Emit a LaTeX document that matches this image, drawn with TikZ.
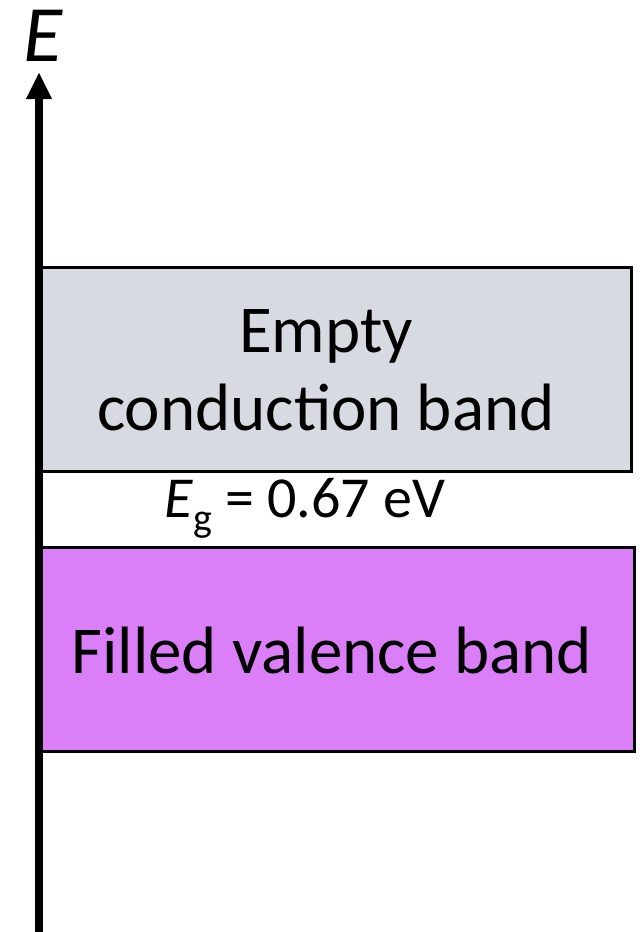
\documentclass[tikz,border=0pt]{standalone}
\usepackage{fontspec}
\setmainfont{Carlito}
\usetikzlibrary{arrows.meta}
\definecolor{condgray}{RGB}{215,218,224}
\definecolor{valmag}{RGB}{218,127,247}
\begin{document}
\begin{tikzpicture}[x=1pt,y=-1pt,
  band/.style={draw=black,line width=3pt},
  bandtext/.style={font=\fontsize{67}{78}\selectfont,align=center,inner sep=0pt},
  axis/.style={line width=8pt,-{Triangle[width=24pt,length=27pt]}}]
\useasboundingbox (0,0) rectangle (641,932);
\fill[white] (0,0) rectangle (641,932);
\node[band,fill=condgray,minimum width=590pt,minimum height=204pt,inner sep=0pt,anchor=north west] (cond) at (40,266) {};
\node[band,fill=valmag,minimum width=593pt,minimum height=204pt,inner sep=0pt,anchor=north west] (val) at (40,546) {};
\node[bandtext] (condtxt) at (326,370) {Empty\\conduction band};
\node[bandtext] (valtxt) at (332,650) {Filled valence band};
\node[font=\fontsize{58}{64}\selectfont,inner sep=0pt] (eg) at (305,508) {\textit{E}\raisebox{-14pt}{\fontsize{40}{46}\selectfont g} = 0.67 eV};
\coordinate (axbot) at (39,932);
\coordinate (axtop) at (39,72);
\draw[axis] (axbot) -- (axtop);
\node[font=\fontsize{80}{86}\selectfont\itshape,inner sep=0pt] (elabel) at (43,36) {E};
\end{tikzpicture}
\end{document}
